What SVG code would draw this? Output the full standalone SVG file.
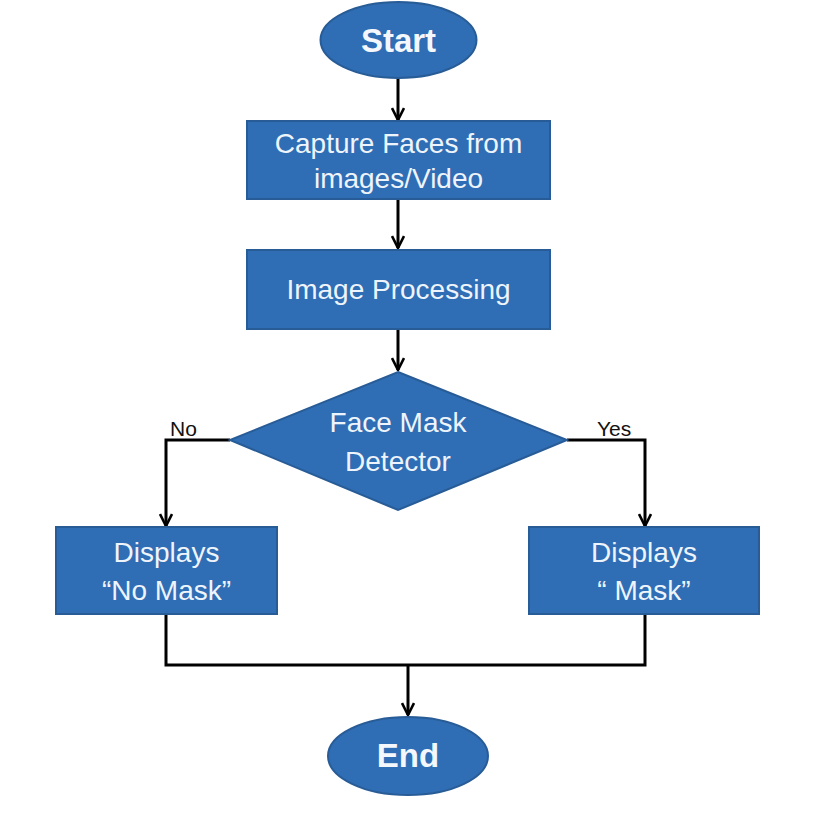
<svg xmlns="http://www.w3.org/2000/svg" width="813" height="818" viewBox="0 0 813 818">
<defs>
<style>
.shape{fill:#2f6db4;stroke:#285c97;stroke-width:2}
.t{font-family:"Liberation Sans",Arial,sans-serif;font-size:28px;fill:#eef4fb;text-anchor:middle}
.tb{font-family:"Liberation Sans",Arial,sans-serif;font-size:33px;font-weight:bold;fill:#f4f8fc;text-anchor:middle}
.lbl{font-family:"Liberation Sans",Arial,sans-serif;font-size:21px;fill:#111;text-anchor:start}
.c{fill:none;stroke:#000;stroke-width:3}
</style>
<marker id="arr" viewBox="0 0 14 14" refX="13" refY="7" markerWidth="14" markerHeight="14" markerUnits="userSpaceOnUse" orient="auto">
<path d="M1,1 L13,7 L1,13" fill="none" stroke="#000" stroke-width="2.6"/>
</marker>
</defs>
<rect width="813" height="818" fill="#fff"/>
<g id="connectors">
<path class="c" d="M398,78 V120" marker-end="url(#arr)"/>
<path class="c" d="M398,200 V248" marker-end="url(#arr)"/>
<path class="c" d="M398,329 V370" marker-end="url(#arr)"/>
<path class="c" d="M230,440 H166 V526" marker-end="url(#arr)"/>
<path class="c" d="M567,440 H645 V526" marker-end="url(#arr)"/>
<path class="c" d="M166,614 V665 H645 V614"/>
<path class="c" d="M408,665 V715" marker-end="url(#arr)"/>
<text class="lbl" x="170" y="436">No</text>
<text class="lbl" x="597" y="436">Yes</text>
</g>
<g id="start">
<ellipse class="shape" cx="398.5" cy="40" rx="78" ry="38"/>
<text class="tb" x="398.5" y="52">Start</text>
</g>
<g id="capture">
<rect class="shape" x="247" y="121" width="303" height="78"/>
<text class="t" x="398.5" y="153">Capture Faces from</text>
<text class="t" x="398.5" y="188">images/Video</text>
</g>
<g id="processing">
<rect class="shape" x="247" y="250" width="303" height="79"/>
<text class="t" x="398.5" y="299">Image Processing</text>
</g>
<g id="detector">
<polygon class="shape" points="398,372 567,440 398,510 230,440"/>
<text class="t" x="398" y="432">Face Mask</text>
<text class="t" x="398" y="471">Detector</text>
</g>
<g id="nomask">
<rect class="shape" x="56" y="527" width="221" height="87"/>
<text class="t" x="166.5" y="562">Displays</text>
<text class="t" x="166.5" y="600">“No Mask”</text>
</g>
<g id="mask">
<rect class="shape" x="529" y="527" width="230" height="87"/>
<text class="t" x="644" y="562">Displays</text>
<text class="t" x="644" y="600">“ Mask”</text>
</g>
<g id="end">
<ellipse class="shape" cx="408" cy="756" rx="80" ry="39"/>
<text class="tb" x="408" y="767">End</text>
</g>
</svg>
